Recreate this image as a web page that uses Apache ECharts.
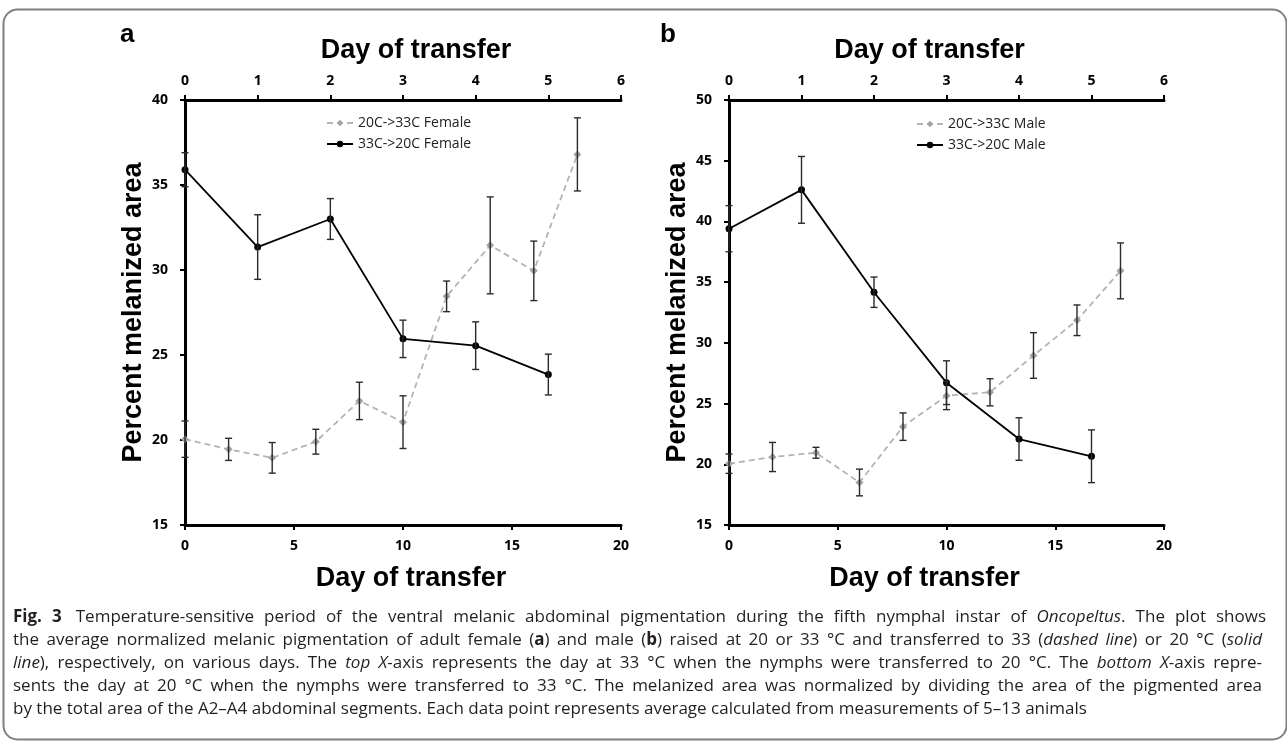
<!DOCTYPE html>
<html>
<head>
<meta charset="utf-8">
<script src="https://cdn.jsdelivr.net/npm/echarts@6/dist/echarts.min.js"></script>
<style>html,body{margin:0;padding:0;background:#fff;}#c{width:1287px;height:741px;}</style>
</head>
<body>
<div id="c"></div>
<script>
// ---- data ----
const days20 = [0, 2, 4, 6, 8, 10, 12, 14, 16, 18];      // bottom axis (day at 20 °C)
const days33 = [0, 1, 2, 3, 4, 5];                       // top axis (day at 33 °C)
const female2033 = [20.05, 19.45, 18.95, 19.9, 22.3, 21.05, 28.45, 31.45, 29.95, 36.8];
const female2033Err = [1.07, 0.65, 0.9, 0.73, 1.1, 1.55, 0.9, 2.85, 1.75, 2.15];
const female3320 = [35.9, 31.35, 33.0, 25.95, 25.55, 23.85];
const female3320Err = [1.0, 1.9, 1.2, 1.1, 1.4, 1.2];
const male2033 = [20.05, 20.6, 20.95, 18.5, 23.1, 25.65, 25.93, 28.96, 31.86, 35.93];
const male2033Err = [0.8, 1.2, 0.45, 1.1, 1.13, 1.15, 1.12, 1.88, 1.26, 2.3];
const male3320 = [39.4, 42.6, 34.17, 26.72, 22.08, 20.66];
const male3320Err = [1.9, 2.75, 1.25, 1.8, 1.75, 2.17];
const seriesNames = ['20C->33C Female', '33C->20C Female', '20C->33C Male', '33C->20C Male'];
const axisTitleX = 'Day of transfer';
const axisTitleY = 'Percent melanized area';

const captionLines = [
  '{b|Fig. 3} Temperature-sensitive period of the ventral melanic abdominal pigmentation during the fifth nymphal instar of {i|Oncopeltus}. The plot shows',
  'the average normalized melanic pigmentation of adult female ({b|a}) and male ({b|b}) raised at 20 or 33 °C and transferred to 33 ({i|dashed line}) or 20 °C ({i|solid}',
  '{i|line}), respectively, on various days. The {i|top X}-axis represents the day at 33 °C when the nymphs were transferred to 20 °C. The {i|bottom X}-axis repre-',
  'sents the day at 20 °C when the nymphs were transferred to 33 °C. The melanized area was normalized by dividing the area of the pigmented area',
  'by the total area of the A2–A4 abdominal segments. Each data point represents average calculated from measurements of 5–13 animals'
];

// ---- helpers ----
const pairs = (xs, ys) => xs.map((x, i) => [x, ys[i]]);
const triples = (xs, ys, es) => xs.map((x, i) => [x, ys[i], es[i]]);
const tickFont = { fontFamily: 'Open Sans', fontWeight: 'bold', fontSize: 14, color: '#000' };
const titleFont = (pad) => ({ fontFamily: 'Liberation Sans', fontWeight: 'bold', fontSize: 27, color: '#000', padding: pad });
const axLine = { show: true, onZero: false, lineStyle: { color: '#000', width: 3 } };
const axTick = { show: true, inside: false, length: 5, lineStyle: { color: '#000', width: 2 } };

function errItem(params, api) {
  const x = api.value(0), y = api.value(1), e = api.value(2);
  const hi = api.coord([x, y + e]);
  const lo = api.coord([x, y - e]);
  const w = 3.5;
  const st = { stroke: '#2a2a2a', lineWidth: 1.4 };
  return {
    type: 'group',
    children: [
      { type: 'line', shape: { x1: hi[0], y1: hi[1], x2: lo[0], y2: lo[1] }, style: st },
      { type: 'line', shape: { x1: hi[0] - w, y1: hi[1], x2: hi[0] + w, y2: hi[1] }, style: st },
      { type: 'line', shape: { x1: lo[0] - w, y1: lo[1], x2: lo[0] + w, y2: lo[1] }, style: st }
    ]
  };
}

function xAxes(grid, padBottom, padTop) {
  return [
    {
      gridIndex: grid, type: 'value', position: 'bottom', min: 0, max: 20, interval: 5,
      axisLine: axLine, axisTick: axTick, splitLine: { show: false },
      axisLabel: Object.assign({ margin: 14 }, tickFont),
      name: axisTitleX, nameLocation: 'middle', nameGap: 40, nameTextStyle: titleFont(padBottom)
    },
    {
      gridIndex: grid, type: 'value', position: 'top', min: 0, max: 6, interval: 1,
      axisLine: axLine, axisTick: axTick, splitLine: { show: false },
      axisLabel: Object.assign({ margin: 12 }, tickFont),
      name: axisTitleX, nameLocation: 'middle', nameGap: 36, nameTextStyle: titleFont(padTop)
    }
  ];
}

function yAxis(grid, max) {
  return {
    gridIndex: grid, type: 'value', min: 15, max: max, interval: 5,
    axisLine: axLine, axisTick: axTick, splitLine: { show: false },
    axisLabel: Object.assign({ margin: 17 }, tickFont),
    name: axisTitleY, nameLocation: 'middle', nameGap: 38, nameRotate: 90, nameTextStyle: titleFont(0)
  };
}

function graySeries(name, xi, yi, data) {
  return {
    name: name, type: 'line', xAxisIndex: xi, yAxisIndex: yi, data: data,
    symbol: 'diamond', symbolSize: 8, z: 3,
    itemStyle: { color: '#a3a3a3' },
    lineStyle: { color: '#b4b4b4', width: 1.8, type: [6, 4] }
  };
}
function blackSeries(name, xi, yi, data) {
  return {
    name: name, type: 'line', xAxisIndex: xi, yAxisIndex: yi, data: data,
    symbol: 'circle', symbolSize: 7, z: 4,
    itemStyle: { color: '#000' },
    lineStyle: { color: '#000', width: 1.8 }
  };
}
function errSeries(xi, yi, data) {
  return { type: 'custom', xAxisIndex: xi, yAxisIndex: yi, data: data, renderItem: errItem, z: 5, silent: true };
}

// ---- caption, justified like the journal layout ----
const capSize = 17, capLeft = 13, capRight = 1262, capTop = 617, capStep = 23;
const capFamily = '"Open Sans"';
const mctx = document.createElement('canvas').getContext('2d');
function fontOf(st) {
  return (st === 'i' ? 'italic ' : '') + (st === 'b' ? 'bold ' : '') + capSize + 'px ' + capFamily;
}
function measure(text, st) { mctx.font = fontOf(st); return mctx.measureText(text).width; }
function parseWords(line) {
  const segs = [];
  const re = /\{(b|i)\|([^}]*)\}|([^{]+)/g;
  let m;
  while ((m = re.exec(line))) segs.push(m[1] ? [m[1], m[2]] : ['', m[3]]);
  const words = [[]];
  segs.forEach(([st, txt]) => {
    txt.split(/( )/).forEach(p => {
      if (p === ' ') { if (words[words.length - 1].length) words.push([]); }
      else if (p) words[words.length - 1].push([st, p]);
    });
  });
  return words.filter(w => w.length);
}
function captionGraphics() {
  const out = [];
  captionLines.forEach((line, li) => {
    const words = parseWords(line);
    const widths = words.map(w => w.reduce((s, [st, t]) => s + measure(t, st), 0));
    const total = widths.reduce((a, b) => a + b, 0);
    const natural = measure(' ', '');
    const justify = li < captionLines.length - 1;
    const gap = justify ? (capRight - capLeft - total) / (words.length - 1) : natural;
    let x = capLeft;
    const y = capTop + li * capStep;
    words.forEach((w, wi) => {
      w.forEach(([st, t]) => {
        out.push({ type: 'text', x: x, y: y, silent: true,
          style: { text: t, font: fontOf(st), fill: '#231f20', verticalAlign: 'middle', textAlign: 'left' } });
        x += measure(t, st);
      });
      x += gap + (li === 0 && wi === 1 ? 4 : 0);
    });
  });
  return out;
}

const legendText = { fontFamily: 'Open Sans', fontSize: 14, color: '#222' };

const option = {
  backgroundColor: '#fff',
  animation: false,
  grid: [
    { left: 185, top: 100, width: 436, height: 425 },
    { left: 729, top: 100, width: 435, height: 425 }
  ],
  xAxis: xAxes(0, [0, 0, 0, 16], [0, 0, 0, 26]).concat(xAxes(1, [0, 44, 0, 0], [0, 34, 0, 0])),
  yAxis: [yAxis(0, 40), yAxis(1, 50)],
  legend: [
    { data: [seriesNames[0], seriesNames[1]], orient: 'vertical', left: 321, top: 111, itemWidth: 26, itemHeight: 8, itemGap: 7, textStyle: legendText, selectedMode: false },
    { data: [seriesNames[2], seriesNames[3]], orient: 'vertical', left: 911, top: 112, itemWidth: 26, itemHeight: 8, itemGap: 7, textStyle: legendText, selectedMode: false }
  ],
  series: [
    graySeries(seriesNames[0], 0, 0, pairs(days20, female2033)),
    blackSeries(seriesNames[1], 1, 0, pairs(days33, female3320)),
    errSeries(0, 0, triples(days20, female2033, female2033Err)),
    errSeries(1, 0, triples(days33, female3320, female3320Err)),
    graySeries(seriesNames[2], 2, 1, pairs(days20, male2033)),
    blackSeries(seriesNames[3], 3, 1, pairs(days33, male3320)),
    errSeries(2, 1, triples(days20, male2033, male2033Err)),
    errSeries(3, 1, triples(days33, male3320, male3320Err))
  ],
  graphic: [
    { type: 'rect', left: 1, top: 7, shape: { width: 1283, height: 730, r: 14 }, style: { fill: 'none', stroke: '#808080', lineWidth: 2 }, z: 0 },
    { type: 'text', left: 120, top: 22, style: { text: 'a', font: 'bold 26px "Liberation Sans"', fill: '#000' } },
    { type: 'text', left: 660, top: 22, style: { text: 'b', font: 'bold 26px "Liberation Sans"', fill: '#000' } }
  ].concat(captionGraphics())
};

const chart = echarts.init(document.getElementById('c'), null, { renderer: 'canvas' });
chart.setOption(option);
</script>
</body>
</html>
